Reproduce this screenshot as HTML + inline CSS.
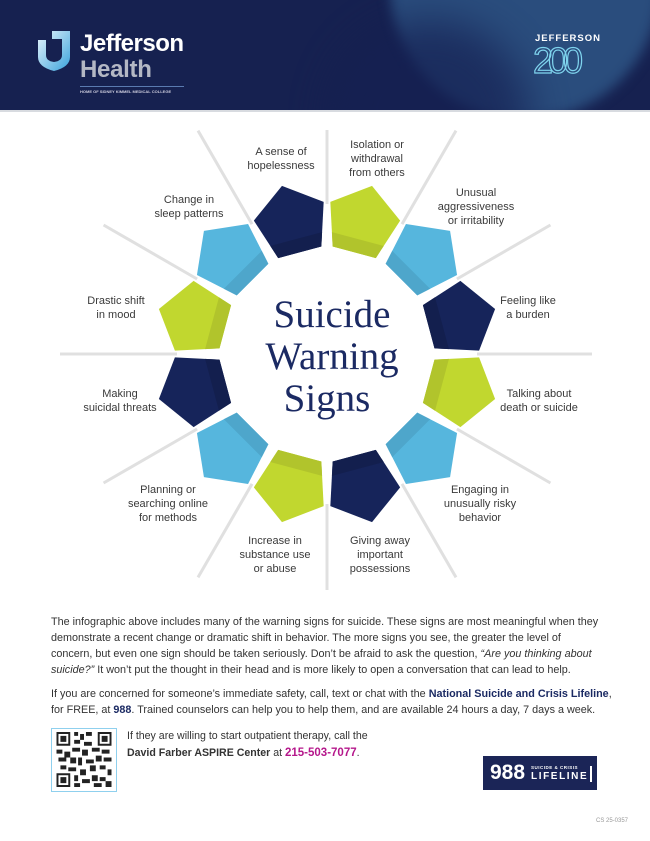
<!DOCTYPE html>
<html><head><meta charset="utf-8"><style>
*{margin:0;padding:0}
body{width:650px;height:841px;background:#fff;position:relative;overflow:hidden;font-family:"Liberation Sans",sans-serif;color:#333}
.hdr{position:absolute;left:0;top:0;width:650px;height:110px;background:#162150;overflow:hidden}
.lbl{position:absolute;font-size:11px;line-height:14px;text-align:center;white-space:nowrap;color:#3a3a3a;transform:translateX(-50%)}
.p{position:absolute;left:51px;font-size:10.8px;line-height:16px;white-space:nowrap;color:#333}
b.n{color:#1b2a63}
</style></head><body>
<div class="hdr">
  <div style="position:absolute;left:390px;top:-150px;width:270px;height:270px;border-radius:50%;background:#2a4d7d;filter:blur(6px)"></div>
  <div style="position:absolute;left:330px;top:20px;width:200px;height:200px;border-radius:50%;background:#152052;filter:blur(20px);opacity:.7"></div>
  <svg style="position:absolute;left:38px;top:31px" width="32" height="40" viewBox="0 0 32 40">
    <defs><linearGradient id="sg" x1="0" y1="0" x2="1" y2="1"><stop offset="0" stop-color="#e9f5fc"/><stop offset="1" stop-color="#3aa3dc"/></linearGradient></defs>
    <path d="M0 0H32V26Q32 36 16 40Q0 36 0 26V9H8V24Q8 30 16 31Q24 30 24 24V8H14V0Z" fill="url(#sg)"/>
  </svg>
  <div style="position:absolute;left:80px;top:30px;color:#fff;font-weight:bold;font-size:24px;letter-spacing:-0.5px">Jefferson</div>
  <div style="position:absolute;left:80px;top:56px;color:#b4b8c4;font-weight:bold;font-size:24px;letter-spacing:-0.3px">Health</div>
  <div style="position:absolute;left:80px;top:86px;width:104px;height:1px;background:#5a7ab0"></div>
  <div style="position:absolute;left:80px;top:89px;color:#ccd;font-size:4px;font-weight:bold;white-space:nowrap">HOME OF SIDNEY KIMMEL MEDICAL COLLEGE</div>
  <div style="position:absolute;left:535px;top:33px;color:#fff;font-size:9.5px;font-weight:bold;letter-spacing:1px">JEFFERSON</div>
  <div style="position:absolute;left:533px;top:42px;font-size:36px;color:transparent;-webkit-text-stroke:1.2px #7fd4ee;letter-spacing:-5px;line-height:38px">200</div>
</div>
<div style="position:absolute;left:0;top:110px;width:650px;height:2px;background:#d8dbe0"></div>

<svg style="position:absolute;left:0;top:0" width="650" height="841">
  <defs>
    <clipPath id="pc"><polygon points="0,-38 36.14,-11.74 22.34,30.74 -22.34,30.74 -36.14,-11.74"/></clipPath>
    <g id="pg"><polygon points="0,-38 36.14,-11.74 22.34,30.74 -22.34,30.74 -36.14,-11.74"/></g>
  </defs>
  <g stroke="#e0e0e0" stroke-width="3" transform="translate(327,354)">
    <line x1="0" y1="-150" x2="0" y2="-224"/>
    <line x1="0" y1="-150" x2="0" y2="-258" transform="rotate(30)"/>
    <line x1="0" y1="-150" x2="0" y2="-258" transform="rotate(60)"/>
    <line x1="0" y1="-150" x2="0" y2="-265" transform="rotate(90)"/>
    <line x1="0" y1="-150" x2="0" y2="-258" transform="rotate(120)"/>
    <line x1="0" y1="-150" x2="0" y2="-258" transform="rotate(150)"/>
    <line x1="0" y1="-150" x2="0" y2="-236" transform="rotate(180)"/>
    <line x1="0" y1="-150" x2="0" y2="-258" transform="rotate(210)"/>
    <line x1="0" y1="-150" x2="0" y2="-258" transform="rotate(240)"/>
    <line x1="0" y1="-150" x2="0" y2="-267" transform="rotate(270)"/>
    <line x1="0" y1="-150" x2="0" y2="-258" transform="rotate(300)"/>
    <line x1="0" y1="-150" x2="0" y2="-258" transform="rotate(330)"/>
  </g>
  <g transform="translate(362.2,222.6) rotate(15)"><use href="#pg" fill="#c1d72f"/><rect x="-40" y="17" width="80" height="20" fill="#b1c42c" clip-path="url(#pc)"/></g>
  <g transform="translate(423.2,257.8) rotate(45)"><use href="#pg" fill="#56b6dd"/><rect x="-40" y="17" width="80" height="20" fill="#4ea6cb" clip-path="url(#pc)"/></g>
  <g transform="translate(458.4,318.8) rotate(75)"><use href="#pg" fill="#16245a"/><rect x="-40" y="17" width="80" height="20" fill="#131f4e" clip-path="url(#pc)"/></g>
  <g transform="translate(458.4,389.2) rotate(105)"><use href="#pg" fill="#c1d72f"/><rect x="-40" y="17" width="80" height="20" fill="#b1c42c" clip-path="url(#pc)"/></g>
  <g transform="translate(423.2,450.2) rotate(135)"><use href="#pg" fill="#56b6dd"/><rect x="-40" y="17" width="80" height="20" fill="#4ea6cb" clip-path="url(#pc)"/></g>
  <g transform="translate(362.2,485.4) rotate(165)"><use href="#pg" fill="#16245a"/><rect x="-40" y="17" width="80" height="20" fill="#131f4e" clip-path="url(#pc)"/></g>
  <g transform="translate(291.8,485.4) rotate(195)"><use href="#pg" fill="#c1d72f"/><rect x="-40" y="17" width="80" height="20" fill="#b1c42c" clip-path="url(#pc)"/></g>
  <g transform="translate(230.8,450.2) rotate(225)"><use href="#pg" fill="#56b6dd"/><rect x="-40" y="17" width="80" height="20" fill="#4ea6cb" clip-path="url(#pc)"/></g>
  <g transform="translate(195.6,389.2) rotate(255)"><use href="#pg" fill="#16245a"/><rect x="-40" y="17" width="80" height="20" fill="#131f4e" clip-path="url(#pc)"/></g>
  <g transform="translate(195.6,318.8) rotate(285)"><use href="#pg" fill="#c1d72f"/><rect x="-40" y="17" width="80" height="20" fill="#b1c42c" clip-path="url(#pc)"/></g>
  <g transform="translate(230.8,257.8) rotate(315)"><use href="#pg" fill="#56b6dd"/><rect x="-40" y="17" width="80" height="20" fill="#4ea6cb" clip-path="url(#pc)"/></g>
  <g transform="translate(291.8,222.6) rotate(345)"><use href="#pg" fill="#16245a"/><rect x="-40" y="17" width="80" height="20" fill="#131f4e" clip-path="url(#pc)"/></g>
  <g font-family="'Liberation Serif',serif" font-size="39" fill="#1b2a63" text-anchor="middle">
    <text x="332" y="327">Suicide</text>
    <text x="332" y="369">Warning</text>
    <text x="327" y="411">Signs</text>
  </g>
</svg>

<div class="lbl" style="left:281px;top:145px">A sense of<br>hopelessness</div>
<div class="lbl" style="left:377px;top:138px">Isolation or<br>withdrawal<br>from others</div>
<div class="lbl" style="left:476px;top:186px">Unusual<br>aggressiveness<br>or irritability</div>
<div class="lbl" style="left:528px;top:294px">Feeling like<br>a burden</div>
<div class="lbl" style="left:539px;top:387px">Talking about<br>death or suicide</div>
<div class="lbl" style="left:480px;top:483px">Engaging in<br>unusually risky<br>behavior</div>
<div class="lbl" style="left:380px;top:534px">Giving away<br>important<br>possessions</div>
<div class="lbl" style="left:275px;top:534px">Increase in<br>substance use<br>or abuse</div>
<div class="lbl" style="left:168px;top:483px">Planning or<br>searching online<br>for methods</div>
<div class="lbl" style="left:120px;top:387px">Making<br>suicidal threats</div>
<div class="lbl" style="left:116px;top:294px">Drastic shift<br>in mood</div>
<div class="lbl" style="left:189px;top:193px">Change in<br>sleep patterns</div>

<div class="p" style="top:614px">The infographic above includes many of the warning signs for suicide. These signs are most meaningful when they<br>demonstrate a recent change or dramatic shift in behavior. The more signs you see, the greater the level of<br>concern, but even one sign should be taken seriously. Don’t be afraid to ask the question, <i>“Are you thinking about<br>suicide?”</i> It won’t put the thought in their head and is more likely to open a conversation that can lead to help.</div>
<div class="p" style="top:686px">If you are concerned for someone’s immediate safety, call, text or chat with the <b class="n">National Suicide and Crisis Lifeline</b>,<br>for FREE, at <b class="n">988</b>. Trained counselors can help you to help them, and are available 24 hours a day, 7 days a week.</div>

<div style="position:absolute;left:51px;top:728px;width:64px;height:62px;border:1.5px solid #8fd0ee;background:#fff"></div>
<svg style="position:absolute;left:56px;top:732px" width="56" height="55" viewBox="0 0 28 28">
  <rect width="28" height="28" fill="#fff"/>
  <g fill="#222">
    <path d="M0 0h7v7h-7zM1 1v5h5v-5zM2 2h3v3h-3z"/>
    <path d="M21 0h7v7h-7zM22 1v5h5v-5zM23 2h3v3h-3z"/>
    <path d="M0 21h7v7h-7zM1 22v5h5v-5zM2 23h3v3h-3z"/>
    <path d="M9 0h2v2h-2zM12 1h2v3h-2zM15 0h3v2h-3zM9 4h3v2h-3zM14 5h4v2h-4zM8 8h4v2h-4zM13 9h3v3h-3zM18 8h4v2h-4zM23 9h4v2h-4zM0 9h3v2h-3zM4 10h3v3h-3zM1 13h4v2h-4zM7 13h3v3h-3zM11 13h2v4h-2zM15 14h4v2h-4zM20 12h3v3h-3zM24 13h4v2h-4zM2 17h3v2h-3zM6 18h4v2h-4zM12 19h3v3h-3zM17 17h3v3h-3zM22 17h3v2h-3zM26 19h2v3h-2zM9 22h2v3h-2zM13 24h4v2h-4zM18 22h3v3h-3zM22 23h3v2h-3zM9 26h3v2h-3zM19 26h4v2h-4zM25 25h3v3h-3z"/>
  </g>
</svg>
<div style="position:absolute;left:127px;top:728px;font-size:10.6px;line-height:17px;white-space:nowrap;color:#333">If they are willing to start outpatient therapy, call the<br><b>David Farber ASPIRE Center</b> at <b style="color:#b5178b;font-size:11.5px">215-503-7077</b>.</div>

<div style="position:absolute;left:483px;top:756px;width:114px;height:34px;background:#1b2557">
  <div style="position:absolute;left:7px;top:5px;color:#fff;font-weight:bold;font-size:21px;line-height:24px">988</div>
  <div style="position:absolute;left:48px;top:9px;color:#fff;font-size:4.5px;font-weight:bold;letter-spacing:.5px">SUICIDE &amp; CRISIS</div>
  <div style="position:absolute;left:48px;top:15px;color:#fff;font-size:10px;font-weight:bold;letter-spacing:1.6px">LIFELINE</div>
  <div style="position:absolute;left:107px;top:10px;width:2px;height:16px;background:#fff"></div>
</div>
<div style="position:absolute;left:596px;top:818px;font-size:6px;color:#999">CS 25-0357</div>
</body></html>
